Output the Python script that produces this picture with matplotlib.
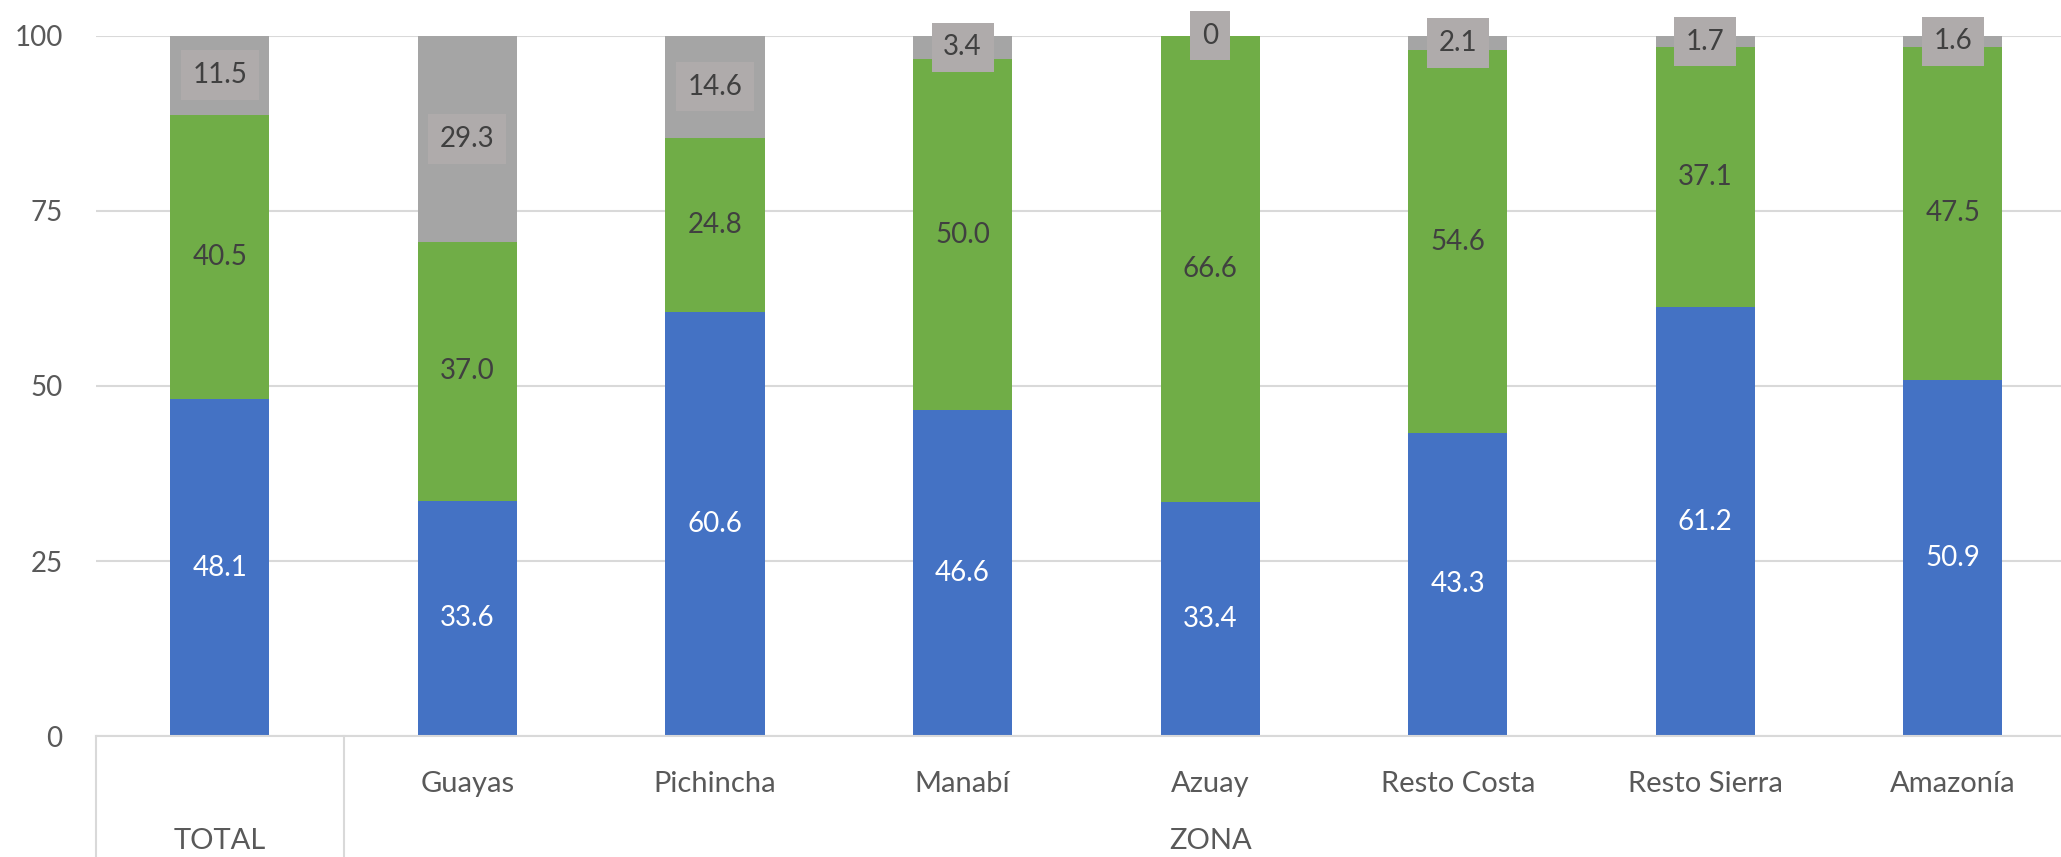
import numpy as np
import matplotlib.pyplot as plt
from matplotlib import transforms

plt.rcParams['font.family'] = ['Lato', 'DejaVu Sans']

# Data
regions = ['TOTAL', 'Guayas', 'Pichincha', 'Manabí', 'Azuay', 'Resto Costa', 'Resto Sierra', 'Amazonía']
blue_vals = [48.1, 33.6, 60.6, 46.6, 33.4, 43.3, 61.2, 50.9]
green_vals = [40.5, 37.0, 24.8, 50.0, 66.6, 54.6, 37.1, 47.5]
gray_vals = [11.5, 29.3, 14.6, 3.4, 0, 2.1, 1.7, 1.6]
group_top = ['TOTAL', 'ZONA']
yticks = [0, 25, 50, 75, 100]

c_blue = '#4472C4'
c_green = '#70AD47'
c_gray = '#A5A5A5'
txt_dark = '#404040'
txt_axis = '#595959'
grid_c = '#D9D9D9'

fig = plt.figure(figsize=(20.61, 8.57), dpi=100)
ax = fig.add_axes([0.0466, 0.141, 0.961, 0.8175])

x = np.arange(len(regions))
w = 0.4
b = np.array(blue_vals)
g = np.array(green_vals)
r = np.array(gray_vals)

ax.bar(x, b, w, color=c_blue, zorder=2)
ax.bar(x, g, w, bottom=b, color=c_green, zorder=2)
ax.bar(x, r, w, bottom=b + g, color=c_gray, zorder=2)

def fmt(v):
    return '0' if v == 0 else f'{v:.1f}'

fs = 20
for i in range(len(regions)):
    ax.text(x[i], b[i] / 2, fmt(b[i]), ha='center', va='center',
            color='white', fontsize=fs, zorder=4)
    ax.text(x[i], b[i] + g[i] / 2, fmt(g[i]), ha='center', va='center',
            color=txt_dark, fontsize=fs, zorder=4)
    ax.text(x[i], b[i] + g[i] + r[i] / 2, fmt(r[i]), ha='center', va='center',
            color=txt_dark, fontsize=fs, zorder=5,
            bbox=dict(boxstyle='square,pad=0.42', fc='#AFABAB', ec='none'))

ax.set_xlim(-0.5, len(regions) - 0.5)
ax.set_ylim(0, 100)
ax.set_yticks(yticks)
ax.tick_params(axis='y', length=0, pad=24, labelsize=fs, labelcolor=txt_axis)
ax.yaxis.grid(True, color=grid_c, linewidth=1.5, zorder=0)
ax.set_axisbelow(True)
for s in ax.spines.values():
    s.set_visible(False)

# Multi-level category axis
ax.set_xticks(x)
ax.set_xticklabels([''] + regions[1:])
ax.tick_params(axis='x', length=0, pad=25, labelsize=fs + 1, labelcolor=txt_axis)

trans = transforms.blended_transform_factory(ax.transData, ax.transAxes)
ax.plot([-0.5, len(regions) - 0.5], [0, 0], color=grid_c, lw=1.5, transform=trans, clip_on=False)
for xv in [-0.5, 0.5]:
    ax.plot([xv, xv], [0, -0.2], color=grid_c, lw=1.5, transform=trans, clip_on=False)

ax.text(0, -0.15, group_top[0], transform=trans, ha='center', va='center',
        fontsize=fs + 1, color=txt_axis)
ax.text((x[1] + x[-1]) / 2, -0.15, group_top[1], transform=trans, ha='center', va='center',
        fontsize=fs + 1, color=txt_axis)

fig.savefig('out.png', dpi=100)
